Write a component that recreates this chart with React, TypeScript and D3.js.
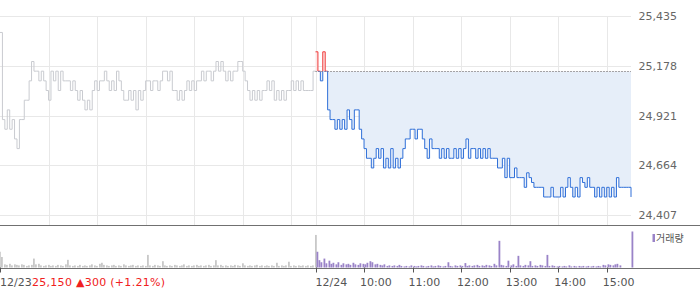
import React from "react";
import * as d3 from "d3";

// ---- data ----
const refPrice = 25150; // previous close
const yTicks = [25435, 25178, 24921, 24664, 24407];
const stepMinutes = 3;
const sessionMinutes = 390;
const dateLabels = ["12/23", "12/24"];
const hourLabels = ["10:00", "11:00", "12:00", "13:00", "14:00", "15:00"];
const infoText = "25,150 \u25B2300 (+1.21%)";
const legendLabel = "거래량";

// prices every 3 minutes, 12/23
const day1Prices = [
  25350, 24900, 24850, 24950, 24850, 24900, 24800, 24750, 24900, 24900,
  25000, 25000, 25100, 25200, 25150, 25150, 25100, 25150, 25100, 25050,
  25000, 25150, 25100, 25150, 25050, 25150, 25100, 25100, 25100, 25050,
  25100, 25050, 25000, 25050, 25000, 24950, 25000, 24950, 25050, 25100,
  25050, 25100, 25100, 25150, 25100, 25050, 25100, 25050, 25150, 25100,
  25050, 25000, 25000, 25050, 25000, 25050, 24950, 25050, 25000, 25050,
  25100, 25100, 25050, 25100, 25100, 25050, 25100, 25150, 25150, 25100,
  25150, 25050, 25050, 25000, 25050, 25000, 25050, 25100, 25050, 25100,
  25050, 25100, 25100, 25150, 25100, 25150, 25150, 25100, 25150, 25200,
  25150, 25200, 25150, 25100, 25150, 25100, 25150, 25150, 25200, 25200,
  25150, 25100, 25050, 25000, 25050, 25000, 25050, 25000, 25050, 25050,
  25100, 25050, 25100, 25000, 25050, 25000, 25050, 25000, 25050, 25050,
  25100, 25050, 25100, 25050, 25100, 25050, 25050, 25050, 25050, 25150,
  25150,
];

// prices every 3 minutes, 12/24
const day2Prices = [
  25250, 25150, 25100, 25250, 25150, 24950, 24900, 24900, 24850, 24900,
  24850, 24900, 24850, 24950, 24900, 24850, 24950, 24950, 24850, 24800,
  24750, 24700, 24700, 24650, 24700, 24750, 24700, 24750, 24650, 24700,
  24650, 24750, 24650, 24700, 24650, 24700, 24750, 24800, 24800, 24850,
  24850, 24800, 24850, 24850, 24800, 24750, 24700, 24800, 24750, 24750,
  24750, 24700, 24750, 24700, 24750, 24700, 24700, 24750, 24700, 24750,
  24700, 24750, 24800, 24700, 24750, 24750, 24700, 24750, 24700, 24750,
  24700, 24750, 24700, 24700, 24700, 24650, 24650, 24700, 24600, 24700,
  24600, 24600, 24650, 24600, 24600, 24600, 24550, 24625, 24600, 24575,
  24550, 24550, 24550, 24550, 24500, 24500, 24500, 24550, 24500, 24500,
  24500, 24550, 24500, 24550, 24600, 24550, 24500, 24550, 24500, 24600,
  24575, 24550, 24600, 24550, 24550, 24500, 24550, 24500, 24550, 24500,
  24550, 24500, 24550, 24500, 24600, 24550, 24550, 24550, 24550, 24550,
  24500,
];

// volume every 3 minutes
const day1Volume = [
  150, 100, 30, 25, 35, 20, 30, 25, 20, 30, 25, 15, 20, 25, 85, 30, 35, 20, 15, 20,
  25, 15, 20, 15, 25, 20, 15, 30, 73, 20, 15, 20, 15, 25, 15, 20, 15, 20, 30, 20,
  15, 35, 45, 25, 20, 15, 20, 25, 15, 20, 15, 30, 20, 15, 20, 25, 15, 20, 15, 20,
  15, 120, 20, 15, 25, 20, 15, 60, 20, 15, 20, 15, 25, 20, 15, 20, 30, 15, 20, 15,
  20, 25, 15, 20, 15, 20, 25, 15, 20, 70, 20, 25, 15, 20, 15, 20, 15, 25, 20, 15,
  40, 20, 15, 20, 15, 20, 25, 15, 20, 15, 20, 15, 20, 15, 45, 15, 20, 15, 20, 55,
  15, 20, 15, 20, 15, 20, 15, 20, 15, 20, 310,
];
const day2Volume = [
  150, 70, 50, 85, 40, 65, 35, 45, 30, 50, 25, 40, 30, 35, 25, 45, 30, 25, 40, 35,
  30, 45, 60, 50, 30, 35, 25, 20, 30, 15, 20, 15, 20, 15, 25, 15, 10, 15, 10, 20,
  15, 10, 15, 20, 15, 10, 15, 20, 10, 15, 20, 15, 10, 15, 50, 15, 10, 20, 15, 20,
  15, 42, 15, 20, 15, 20, 25, 15, 20, 15, 25, 20, 15, 35, 20, 254, 25, 20, 15, 65,
  20, 30, 15, 111, 20, 15, 25, 20, 60, 15, 20, 15, 25, 20, 15, 120, 15, 20, 15, 10,
  15, 10, 15, 10, 20, 10, 15, 10, 15, 10, 15, 10, 15, 10, 15, 10, 15, 10, 25, 20,
  30, 25, 20, 30, 35, 20, 0, 0, 0, 0, 343,
];

type Pt = { t: number; v: number };
const day1: Pt[] = day1Prices.map((v, i) => ({ t: i * stepMinutes, v }));
const day2: Pt[] = day2Prices.map((v, i) => ({ t: sessionMinutes + i * stepMinutes, v }));
const vol1: Pt[] = day1Volume.map((v, i) => ({ t: i * stepMinutes, v }));
const vol2: Pt[] = day2Volume.map((v, i) => ({ t: sessionMinutes + i * stepMinutes, v }));

export default function App() {
  const W = 700;
  const H = 289;
  const plotRight = 631;
  const x = d3.scaleLinear().domain([0, sessionMinutes * 2]).range([0, plotRight]);
  const y = d3.scaleLinear().domain([24407, 25435]).range([215, 16]);
  const yv = d3.scaleLinear().domain([0, 400]).range([267.5, 225.5]);
  const fmt = d3.format(",");
  const crisp = (n: number) => Math.round(n) + 0.5;

  const line = d3
    .line<Pt>()
    .x((d) => x(d.t))
    .y((d) => y(d.v))
    .curve(d3.curveStepAfter);
  const area = d3
    .area<Pt>()
    .x((d) => x(d.t))
    .y0(y(refPrice))
    .y1((d) => y(d.v))
    .curve(d3.curveStepAfter);

  const yRef = y(refPrice);
  const vGrid: number[] = [];
  for (let h = 60; h <= 360; h += 60) vGrid.push(h);
  vGrid.push(sessionMinutes);
  for (let h = 60; h <= 360; h += 60) vGrid.push(sessionMinutes + h);

  const axisTicks = [
    { t: 0, label: dateLabels[0], dx: 0 },
    { t: sessionMinutes, label: dateLabels[1], dx: 0 },
    ...hourLabels.map((l, i) => ({ t: sessionMinutes + (i + 1) * 60, label: l, dx: -4 })),
  ];

  const font = "'DejaVu Sans', Verdana, sans-serif";

  return (
    <svg
      width={W}
      height={H}
      style={{ position: "fixed", left: 0, top: 0, background: "#fff" }}
      fontFamily={font}
    >
      <defs>
        <clipPath id="above">
          <rect x={0} y={0} width={W} height={yRef} />
        </clipPath>
        <clipPath id="below">
          <rect x={0} y={yRef} width={W} height={H - yRef} />
        </clipPath>
      </defs>

      {/* grid */}
      {yTicks.map((t) => (
        <line key={"h" + t} x1={0} x2={plotRight} y1={crisp(y(t))} y2={crisp(y(t))} stroke="#e8e8e8" />
      ))}
      {vGrid.map((t) => (
        <line key={"v" + t} x1={crisp(x(t))} x2={crisp(x(t))} y1={16} y2={225} stroke="#e8e8e8" />
      ))}

      {/* day 2 fill */}
      <path d={area(day2) || ""} fill="#e6eef9" clipPath="url(#below)" />
      <path d={area(day2) || ""} fill="#fde4e4" clipPath="url(#above)" />

      {/* reference dotted line */}
      <line
        x1={x(sessionMinutes)}
        x2={plotRight}
        y1={crisp(yRef)}
        y2={crisp(yRef)}
        stroke="#555"
        strokeDasharray="1,2"
      />

      {/* day 1 line */}
      <path d={line(day1) || ""} fill="none" stroke="#c9cbd0" strokeWidth={1} />
      {/* day 2 line */}
      <path d={line(day2) || ""} fill="none" stroke="#2f6fd8" strokeWidth={1} clipPath="url(#below)" />
      <path d={line(day2) || ""} fill="none" stroke="#f03a3a" strokeWidth={1} clipPath="url(#above)" />

      {/* y labels */}
      {yTicks.map((t) => (
        <text key={"yl" + t} x={638.5} y={y(t) + 4} fontSize={11} fill="#666">
          {fmt(t)}
        </text>
      ))}

      {/* separator */}
      <line x1={0} x2={W} y1={225.5} y2={225.5} stroke="#707070" />

      {/* volume */}
      {vol1.map((d) => (
        <rect
          key={"v1" + d.t}
          x={Math.round(x(d.t)) - 1}
          y={yv(d.v)}
          width={1.8}
          height={yv(0) - yv(d.v)}
          fill="#c8c8c8"
        />
      ))}
      {vol2.map((d) => (
        <rect
          key={"v2" + d.t}
          x={Math.round(x(d.t)) + 0.5}
          y={yv(d.v)}
          width={1.8}
          height={yv(0) - yv(d.v)}
          fill="#9a83c8"
        />
      ))}
      <line x1={0} x2={W} y1={crisp(yv(0))} y2={crisp(yv(0))} stroke="#707070" />

      {/* axis ticks & labels */}
      {axisTicks.map((a) => (
        <g key={"a" + a.t}>
          <line
            x1={crisp(x(a.t))}
            x2={crisp(x(a.t))}
            y1={yv(0)}
            y2={yv(0) + 5}
            stroke="#555"
          />
          <text x={x(a.t) + a.dx} y={286} fontSize={11} fill="#555">
            {a.label}
          </text>
        </g>
      ))}
      <text x={32} y={286} fontSize={11} fill="#f02020" textLength={133} lengthAdjust="spacing">
        {infoText}
      </text>

      {/* legend */}
      <rect x={652.5} y={234} width={2.5} height={8} fill="#9a83c8" />
      <text x={656} y={241.5} fontSize={10} fill="#555" fontFamily="'Noto Sans CJK KR', sans-serif">
        {legendLabel}
      </text>
    </svg>
  );
}
